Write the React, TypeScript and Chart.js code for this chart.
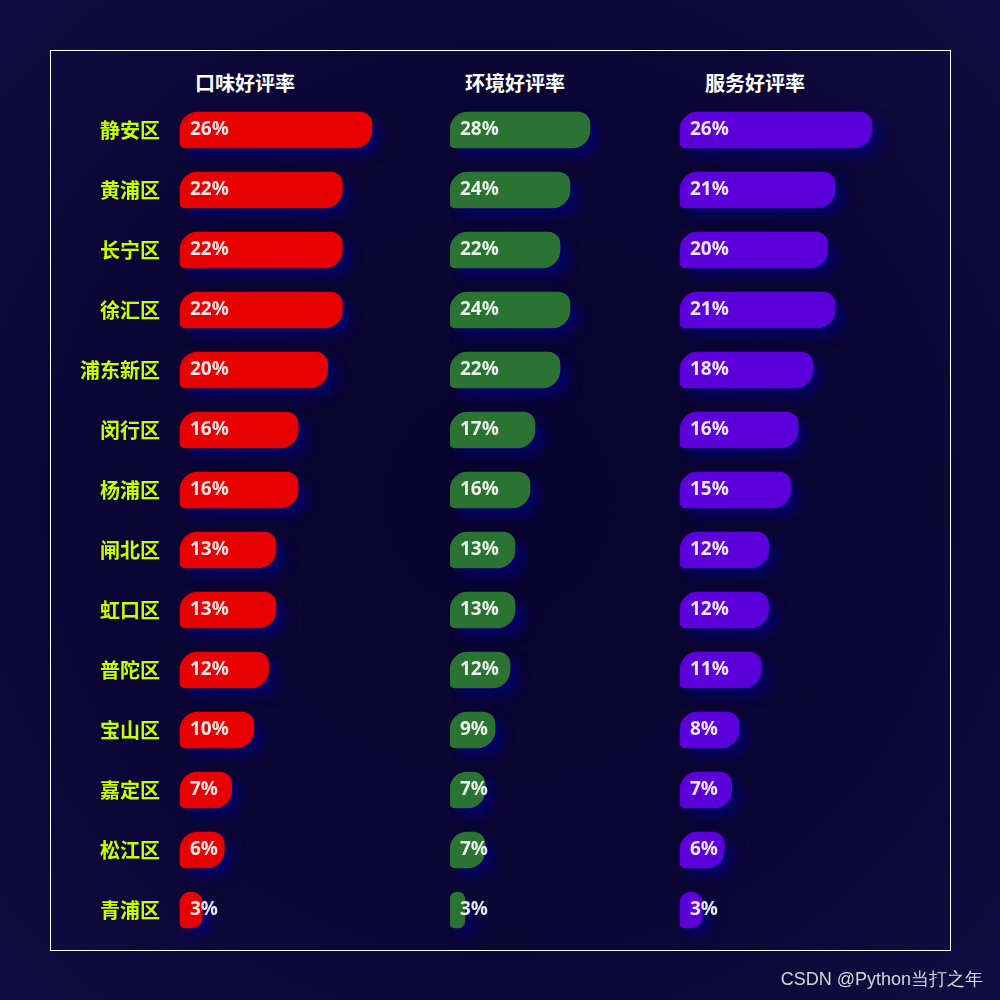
import React, { useEffect, useRef } from "react";
import { Chart, registerables } from "chart.js";

Chart.register(...registerables);

const districts = ["静安区", "黄浦区", "长宁区", "徐汇区", "浦东新区", "闵行区", "杨浦区", "闸北区", "虹口区", "普陀区", "宝山区", "嘉定区", "松江区", "青浦区"];
const tasteRates = [26, 22, 22, 22, 20, 16, 16, 13, 13, 12, 10, 7, 6, 3];
const environmentRates = [28, 24, 22, 24, 22, 17, 16, 13, 13, 12, 9, 7, 7, 3];
const serviceRates = [26, 21, 20, 21, 18, 16, 15, 12, 12, 11, 8, 7, 6, 3];
const columnTitles = ["口味好评率", "环境好评率", "服务好评率"];
const axisMax = 30;
const watermark = "CSDN @Python当打之年";

const shadowPlugin = {
  id: "barShadow",
  beforeDatasetsDraw(chart: any) {
    const ctx = chart.ctx;
    ctx.save();
    ctx.shadowColor = "rgba(0,0,120,0.75)";
    ctx.shadowBlur = 12;
    ctx.shadowOffsetX = 9;
    ctx.shadowOffsetY = 8;
  },
  afterDatasetsDraw(chart: any) {
    chart.ctx.restore();
  },
};

const valueLabelPlugin = {
  id: "valueLabels",
  afterDatasetsDraw(chart: any) {
    const ctx = chart.ctx;
    const meta = chart.getDatasetMeta(0);
    const data = chart.data.datasets[0].data;
    ctx.save();
    ctx.font = 'bold 19px "Open Sans", "Noto Sans", sans-serif';
    ctx.fillStyle = "rgba(255,255,255,0.9)";
    ctx.textBaseline = "middle";
    ctx.textAlign = "left";
    meta.data.forEach((bar: any, i: number) => {
      ctx.fillText(data[i] + "%", bar.base + 10, bar.y);
    });
    ctx.restore();
  },
};

type ColumnProps = {
  values: number[];
  color: string;
  showCategories: boolean;
  left: number;
  plotWidth: number;
};

function BarColumn({ values, color, showCategories, left, plotWidth }: ColumnProps) {
  const ref = useRef<HTMLCanvasElement>(null);
  const axisWidth = showCategories ? 130 : 0;
  const extraRight = 60;
  const extraBottom = 30;
  const width = Math.round(axisWidth + plotWidth + extraRight);
  const height = 840 + extraBottom;

  useEffect(() => {
    if (!ref.current) return;
    const chart = new Chart(ref.current, {
      type: "bar",
      data: {
        labels: districts,
        datasets: [
          {
            data: values,
            backgroundColor: color,
            barThickness: 36,
            borderSkipped: false,
            borderRadius: { topLeft: 18, topRight: 12, bottomRight: 18, bottomLeft: 5 },
            clip: false as any,
          },
        ],
      },
      options: {
        indexAxis: "y",
        responsive: false,
        animation: false,
        events: [],
        layout: { padding: { left: 0, top: 0, right: width - axisWidth - plotWidth, bottom: extraBottom } },
        plugins: { legend: { display: false }, tooltip: { enabled: false }, title: { display: false } },
        scales: {
          x: { display: false, min: 0, max: axisMax },
          y: {
            display: showCategories,
            grid: { display: false, drawTicks: false },
            border: { display: false },
            ticks: {
              color: "#c6ff00",
              padding: 20,
              font: { size: 20, weight: "bold", family: '"Noto Sans CJK SC", sans-serif' },
            },
            afterFit: (scale: any) => {
              scale.width = axisWidth;
              scale.paddingTop = 0;
              scale.paddingBottom = 0;
            },
          },
        },
      } as any,
      plugins: [shadowPlugin, valueLabelPlugin],
    });
    return () => chart.destroy();
  }, []);

  return (
    <canvas
      ref={ref}
      width={width}
      height={height}
      style={{ position: "absolute", left: left - axisWidth, top: 100, width, height }}
    />
  );
}

const titleStyle = (center: number): React.CSSProperties => ({
  position: "absolute",
  left: center - 80,
  width: 160,
  top: 70,
  textAlign: "center",
  color: "#ffffff",
  fontFamily: '"Noto Sans CJK SC", sans-serif',
  fontWeight: 700,
  fontSize: 20,
  lineHeight: "26px",
});

export default function App() {
  return (
    <div
      style={{
        position: "absolute",
        left: 0,
        top: 0,
        width: 1000,
        height: 1000,
        overflow: "hidden",
        background: "radial-gradient(circle at 50% 50%, #08032e 0%, #0a0532 55%, #120b42 100%)",
      }}
    >
      <div
        style={{
          position: "absolute",
          left: 50,
          top: 50,
          width: 899,
          height: 899,
          border: "1px solid #ffffff",
          boxSizing: "content-box",
        }}
      />
      <div style={titleStyle(245)}>{columnTitles[0]}</div>
      <div style={titleStyle(515)}>{columnTitles[1]}</div>
      <div style={titleStyle(755)}>{columnTitles[2]}</div>
      <BarColumn values={tasteRates} color="#e60000" showCategories={true} left={180} plotWidth={221.5} />
      <BarColumn values={environmentRates} color="#2a7333" showCategories={false} left={450} plotWidth={150} />
      <BarColumn values={serviceRates} color="#5b00db" showCategories={false} left={680} plotWidth={221.5} />
      <div
        style={{
          position: "absolute",
          right: 17,
          top: 967,
          color: "#d6d6d6",
          fontFamily: '"Liberation Sans", Arial, sans-serif',
          fontSize: 18,
          lineHeight: "24px",
          whiteSpace: "nowrap",
        }}
      >
        {watermark}
      </div>
    </div>
  );
}
